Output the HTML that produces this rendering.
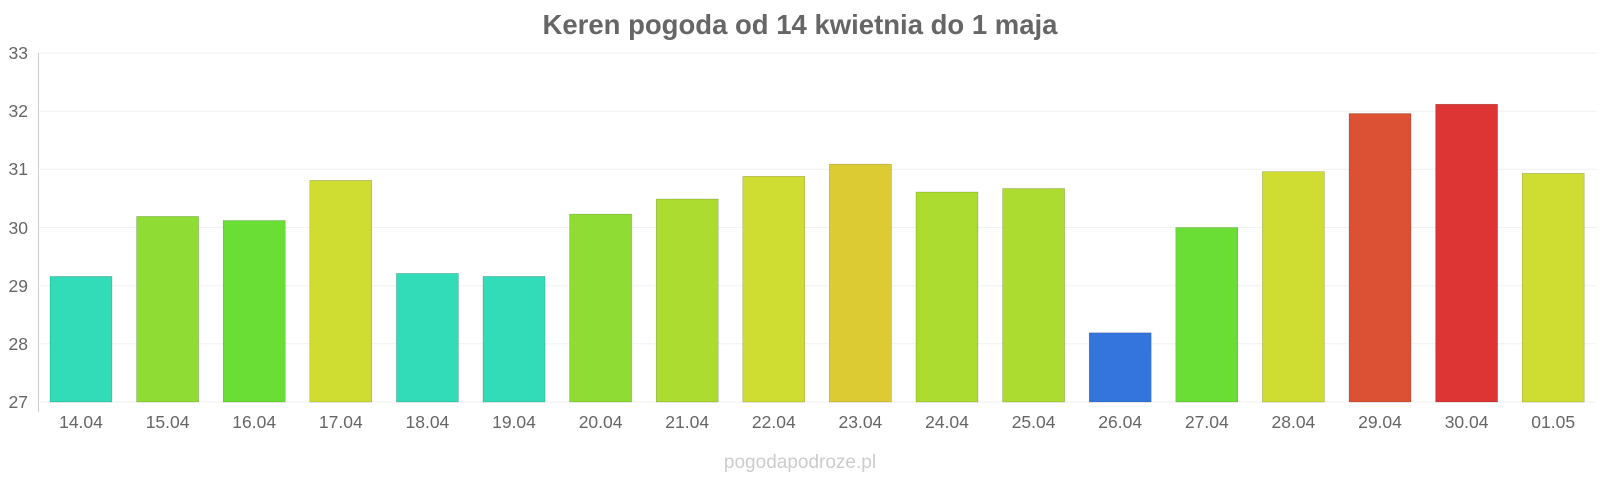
<!DOCTYPE html>
<html><head><meta charset="utf-8"><style>
body{margin:0;background:#fff;}
svg{display:block;font-family:"Liberation Sans",sans-serif;}
</style></head><body>
<svg width="1600" height="480" viewBox="0 0 1600 480">
<text x="800" y="34" text-anchor="middle" font-size="27.5" font-weight="bold" fill="#666">Keren pogoda od 14 kwietnia do 1 maja</text>
<g stroke="#f2f2f2" stroke-width="1">
<line x1="38" x2="1597" y1="53" y2="53"/><line x1="38" x2="1597" y1="111.2" y2="111.2"/>
<line x1="38" x2="1597" y1="169.3" y2="169.3"/><line x1="38" x2="1597" y1="227.5" y2="227.5"/>
<line x1="38" x2="1597" y1="285.7" y2="285.7"/><line x1="38" x2="1597" y1="343.8" y2="343.8"/>
<line x1="38" x2="1597" y1="402" y2="402"/>
</g>
<line x1="38.5" x2="38.5" y1="53" y2="412" stroke="#ccc"/>
<g font-size="17.5" fill="#666" text-anchor="end">
<text x="28" y="59">33</text><text x="28" y="117">32</text><text x="28" y="175">31</text>
<text x="28" y="234">30</text><text x="28" y="292">29</text><text x="28" y="350">28</text><text x="28" y="408">27</text>
</g>
<g stroke-opacity="0.3" stroke="#000" stroke-width="0.5">
<rect x="50" y="276.4" width="62" height="125.6" fill="#33dcb8"/>
<rect x="136.6" y="216.4" width="62" height="185.6" fill="#8fdc35"/>
<rect x="223.2" y="220.5" width="62" height="181.5" fill="#6ade35"/>
<rect x="309.8" y="180.4" width="62" height="221.6" fill="#cfdc31"/>
<rect x="396.4" y="273.4" width="62" height="128.6" fill="#33dcb8"/>
<rect x="483" y="276.4" width="62" height="125.6" fill="#33dcb8"/>
<rect x="569.6" y="214.1" width="62" height="187.9" fill="#8fdc35"/>
<rect x="656.2" y="199" width="62" height="203" fill="#addc31"/>
<rect x="742.8" y="176.3" width="62" height="225.7" fill="#cfdc31"/>
<rect x="829.4" y="164.1" width="62" height="237.9" fill="#dccb33"/>
<rect x="916" y="192" width="62" height="210" fill="#addc31"/>
<rect x="1002.6" y="188.5" width="62" height="213.5" fill="#addc31"/>
<rect x="1089.2" y="332.8" width="62" height="69.2" fill="#3375dc"/>
<rect x="1175.8" y="227.5" width="62" height="174.5" fill="#6ade35"/>
<rect x="1262.4" y="171.6" width="62" height="230.4" fill="#cfdc31"/>
<rect x="1349" y="113.5" width="62" height="288.5" fill="#dc5133"/>
<rect x="1435.6" y="104.2" width="62" height="297.8" fill="#dc3533"/>
<rect x="1522.2" y="173.4" width="62" height="228.6" fill="#cfdc31"/>
</g>
<g font-size="17.5" fill="#666" text-anchor="middle">
<text x="81" y="428">14.04</text><text x="167.6" y="428">15.04</text><text x="254.2" y="428">16.04</text>
<text x="340.8" y="428">17.04</text><text x="427.4" y="428">18.04</text><text x="514" y="428">19.04</text>
<text x="600.6" y="428">20.04</text><text x="687.2" y="428">21.04</text><text x="773.8" y="428">22.04</text>
<text x="860.4" y="428">23.04</text><text x="947" y="428">24.04</text><text x="1033.6" y="428">25.04</text>
<text x="1120.2" y="428">26.04</text><text x="1206.8" y="428">27.04</text><text x="1293.4" y="428">28.04</text>
<text x="1380" y="428">29.04</text><text x="1466.6" y="428">30.04</text><text x="1553.2" y="428">01.05</text>
</g>
<text x="800" y="468" text-anchor="middle" font-size="19" fill="#ccc">pogodapodroze.pl</text>
</svg>
</body></html>
